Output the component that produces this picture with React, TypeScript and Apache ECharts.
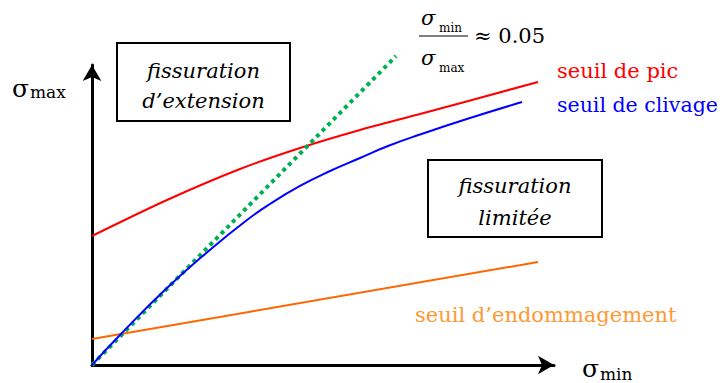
import React, { useEffect, useRef } from "react";
import * as echarts from "echarts";

// Data (abstract units: x 0..100 on σmin axis, y 0..100 on σmax axis)
const peakX = [0, 16.23, 32.03, 45.02, 58.01, 71.0, 96.54];
const peakY = [43, 55, 65.33, 72.33, 78.33, 83.67, 94.33];

const cleavageX = [0, 6.06, 16.23, 25.76, 33.55, 38.53, 45.02, 51.52, 58.01, 64.07, 71.0, 81.82, 93.07];
const cleavageY = [0, 10, 25.67, 38.67, 48.33, 53.67, 59.67, 64.67, 69, 73, 76.83, 82.33, 87.67];

const ratioX = [0, 65.8];
const ratioY = [0, 103];

const damageX = [0, 96.54];
const damageY = [8.67, 34.33];

const zip = (xs: number[], ys: number[]) => xs.map((x, i) => [x, ys[i]]);

const SERIF = "DejaVu Serif";

function txt(text: string, x: number, y: number, size: number, opts: any = {}) {
  const align = opts.align || "left";
  return {
    type: "text",
    x,
    y,
    silent: true,
    style: {
      text,
      fontSize: size,
      fontFamily: SERIF,
      fontStyle: opts.italic ? "italic" : "normal",
      fill: opts.color || "#000",
      align,
      verticalAlign: "middle",
      textAlign: align,
      textVerticalAlign: "middle",
    },
  };
}

export default function App() {
  const ref = useRef<HTMLDivElement>(null);
  useEffect(() => {
    if (!ref.current) return;
    const chart = echarts.init(ref.current, null, { renderer: "svg" });
    const axisCommon = {
      type: "value",
      min: 0,
      max: 100,
      axisLine: {
        show: true,
        onZero: false,
        symbol: ["none", "arrow"],
        symbolSize: [14, 16],
        lineStyle: { color: "#000", width: 3 },
      },
      axisTick: { show: false },
      axisLabel: { show: false },
      splitLine: { show: false },
    };
    chart.setOption({
      animation: false,
      backgroundColor: "#fff",
      grid: { left: 92, top: 65, width: 462, height: 300 },
      xAxis: { ...axisCommon },
      yAxis: { ...axisCommon },
      series: [
        {
          name: "seuil d'endommagement",
          type: "line",
          data: zip(damageX, damageY),
          showSymbol: false,
          lineStyle: { color: "#ff6600", width: 2 },
          z: 2,
        },
        {
          name: "seuil de pic",
          type: "line",
          data: zip(peakX, peakY),
          smooth: 0.3,
          showSymbol: false,
          lineStyle: { color: "#ff0000", width: 2 },
          z: 2,
        },
        {
          name: "ratio",
          type: "line",
          data: zip(ratioX, ratioY),
          showSymbol: false,
          clip: false,
          lineStyle: { color: "#00b050", width: 4, type: [4, 4] },
          z: 3,
        },
        {
          name: "seuil de clivage",
          type: "line",
          data: zip(cleavageX, cleavageY),
          smooth: 0.5,
          showSymbol: false,
          lineStyle: { color: "#0000ff", width: 2 },
          z: 4,
        },
      ],
      graphic: [
        {
          type: "rect",
          shape: { x: 117, y: 43, width: 173, height: 78 },
          style: { fill: "#fff", stroke: "#000", lineWidth: 2 },
        },
        txt("fissuration", 203.5, 70.5, 21, { italic: true, align: "center" }),
        txt("d\u2019extension", 203.5, 100.5, 21, { italic: true, align: "center" }),
        {
          type: "rect",
          shape: { x: 428, y: 160, width: 174, height: 77 },
          style: { fill: "#fff", stroke: "#000", lineWidth: 2 },
        },
        txt("fissuration", 515, 185.5, 21, { italic: true, align: "center" }),
        txt("limitée", 515, 217.5, 21, { italic: true, align: "center" }),
        // axis titles
        txt("σ", 12, 88.5, 25),
        txt("max", 30, 92, 17),
        txt("σ", 582, 368.5, 25),
        txt("min", 600, 374, 17),
        // formula
        txt("σ", 421, 17.5, 21, { italic: true }),
        txt("min", 439, 28, 12),
        {
          type: "line",
          shape: { x1: 419, y1: 36, x2: 468, y2: 36 },
          style: { stroke: "#000", lineWidth: 1 },
        },
        txt("σ", 421, 57.5, 21, { italic: true }),
        txt("max", 439, 68, 12),
        txt("\u2248 0.05", 474, 35.5, 21),
        // curve labels
        txt("seuil de pic", 557, 70.5, 21, { color: "#ff0000" }),
        txt("seuil de clivage", 557, 104.5, 20.5, { color: "#0000ff" }),
        txt("seuil d\u2019endommagement", 415, 314.5, 21, { color: "#ff9933" }),
      ],
    });
    return () => chart.dispose();
  }, []);
  return (
    <div
      ref={ref}
      style={{ position: "fixed", left: 0, top: 0, width: 723, height: 383 }}
    />
  );
}
